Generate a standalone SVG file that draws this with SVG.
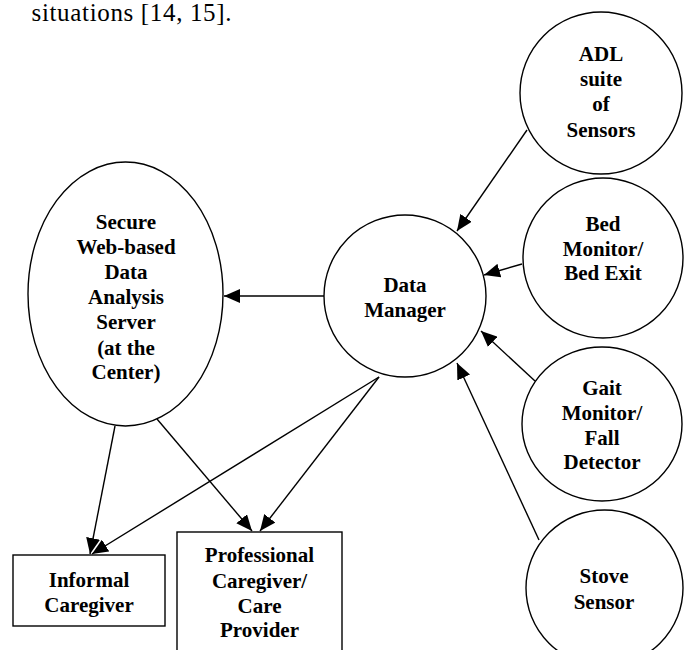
<svg xmlns="http://www.w3.org/2000/svg" width="687" height="650" viewBox="0 0 687 650">
<defs>
<style>
.shape{fill:#fff;stroke:#000;stroke-width:1.4}
.lbl{font-family:"Liberation Serif","Times New Roman",serif;font-weight:bold;font-size:21px;text-anchor:middle;fill:#000}
.con{stroke:#000;stroke-width:1.4;fill:none;marker-end:url(#ah)}
</style>
<marker id="ah" markerUnits="userSpaceOnUse" markerWidth="16" markerHeight="14" refX="16" refY="7" orient="auto" viewBox="0 0 16 14">
<path d="M0,0 L16,7 L0,14 z" fill="#000"/>
</marker>
</defs>
<rect width="687" height="650" fill="#fff"/>
<text x="31.5" y="21" font-family="'Liberation Serif','Times New Roman',serif" font-size="25" textLength="200" lengthAdjust="spacing" fill="#000">situations [14, 15].</text>

<g id="connectors">
<line class="con" x1="527" y1="130" x2="457" y2="231"/>
<line class="con" x1="522" y1="264" x2="484" y2="275"/>
<line class="con" x1="535" y1="381" x2="481" y2="331"/>
<line class="con" x1="539" y1="540" x2="457" y2="363"/>
<line class="con" x1="324" y1="296" x2="224" y2="296"/>
<line class="con" x1="115" y1="426" x2="90" y2="554"/>
<line class="con" x1="379" y1="377" x2="92" y2="554"/>
<line class="con" x1="157" y1="419" x2="252" y2="531"/>
<line class="con" x1="379" y1="377" x2="260" y2="531"/>
</g>

<g id="adl">
<circle class="shape" cx="601" cy="93" r="81"/>
<text class="lbl" x="601" y="61">ADL</text>
<text class="lbl" x="601" y="86">suite</text>
<text class="lbl" x="601" y="111">of</text>
<text class="lbl" x="601" y="137">Sensors</text>
</g>

<g id="bed">
<circle class="shape" cx="603" cy="258" r="80"/>
<text class="lbl" x="603" y="231">Bed</text>
<text class="lbl" x="603" y="256">Monitor/</text>
<text class="lbl" x="603" y="280">Bed Exit</text>
</g>

<g id="gait">
<ellipse class="shape" cx="602" cy="424" rx="80" ry="77"/>
<text class="lbl" x="602" y="395">Gait</text>
<text class="lbl" x="602" y="420">Monitor/</text>
<text class="lbl" x="602" y="445">Fall</text>
<text class="lbl" x="602" y="469">Detector</text>
</g>

<g id="stove">
<ellipse class="shape" cx="604.5" cy="588" rx="78.5" ry="78"/>
<text class="lbl" x="604" y="583">Stove</text>
<text class="lbl" x="604" y="609">Sensor</text>
</g>

<g id="datamanager">
<circle class="shape" cx="405" cy="296" r="81"/>
<text class="lbl" x="405" y="292">Data</text>
<text class="lbl" x="405" y="317">Manager</text>
</g>

<g id="server">
<ellipse class="shape" cx="125.5" cy="294" rx="97.5" ry="132"/>
<text class="lbl" x="126" y="229">Secure</text>
<text class="lbl" x="126" y="254">Web-based</text>
<text class="lbl" x="126" y="279">Data</text>
<text class="lbl" x="126" y="304">Analysis</text>
<text class="lbl" x="126" y="329">Server</text>
<text class="lbl" x="126" y="355">(at the</text>
<text class="lbl" x="126" y="379">Center)</text>
</g>

<g id="informal">
<rect class="shape" x="13" y="555" width="152" height="71"/>
<text class="lbl" x="89" y="587">Informal</text>
<text class="lbl" x="89" y="612">Caregiver</text>
</g>

<g id="professional">
<rect class="shape" x="177" y="532" width="165" height="130"/>
<text class="lbl" x="259.5" y="562">Professional</text>
<text class="lbl" x="259.5" y="588">Caregiver/</text>
<text class="lbl" x="259.5" y="613">Care</text>
<text class="lbl" x="259.5" y="637">Provider</text>
</g>
</svg>
